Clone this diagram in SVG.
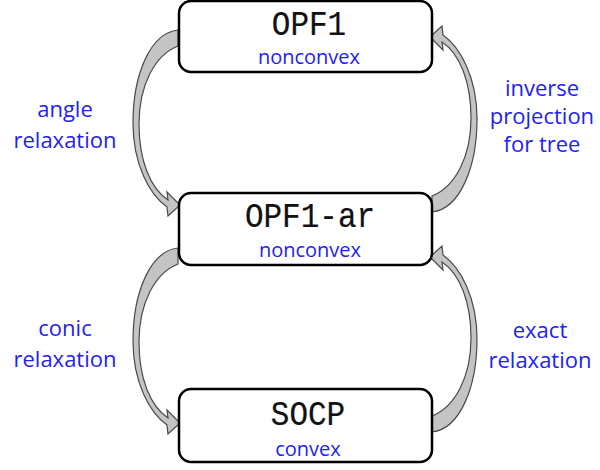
<svg xmlns="http://www.w3.org/2000/svg" width="600" height="470" viewBox="0 0 600 470">
  <style>
    .box { fill: #ffffff; stroke: #000000; stroke-width: 2.5; }
    .title { font-family: "Liberation Mono", "DejaVu Sans Mono", monospace; font-size: 31px; fill: #111111; stroke: #111111; stroke-width: 0.2; text-anchor: middle; }
    .sub { font-family: "Open Sans", "DejaVu Sans", sans-serif; font-size: 20px; fill: #2222f0; text-anchor: middle; }
    .lbl { font-family: "Open Sans", "DejaVu Sans", sans-serif; font-size: 22px; fill: #2222f0; text-anchor: middle; }
    .arrow { fill: #c4c4c4; stroke: #4a4a4a; stroke-width: 1.2; stroke-linejoin: miter; }
  </style>
  <defs>
    <!-- curved block arrow bulging to the left: tail at top-right, head at bottom-right -->
    <path id="curl" d="M178,30 C150,33 133,75 133,123 C133,165 150,195 167,207 L168,216 L180,205 L167,192 L168,200 C150,188 139,160 139,124 C139,85 155,55 178,46 Z"/>
  </defs>

  <g id="connectors">
    <use href="#curl" class="arrow"/>
    <use href="#curl" class="arrow" transform="rotate(180 305 121)"/>
    <use href="#curl" class="arrow" transform="translate(0 218)"/>
    <use href="#curl" class="arrow" transform="translate(0 220) rotate(180 305 121)"/>
  </g>

  <g id="opf1">
    <rect class="box" x="179" y="1" width="253" height="71" rx="12"/>
    <text class="title" transform="translate(309 35) scale(1 1.12)">OPF1</text>
    <text class="sub" x="309" y="64">nonconvex</text>
  </g>

  <g id="opf1-ar">
    <rect class="box" x="179" y="193" width="253" height="72" rx="12"/>
    <text class="title" transform="translate(310 227) scale(1 1.12)">OPF1-ar</text>
    <text class="sub" x="310" y="257">nonconvex</text>
  </g>

  <g id="socp">
    <rect class="box" x="179" y="389" width="253" height="73" rx="12"/>
    <text class="title" transform="translate(308 425) scale(1 1.12)">SOCP</text>
    <text class="sub" x="308" y="456">convex</text>
  </g>

  <g id="labels">
    <text class="lbl" x="65" y="117">angle</text>
    <text class="lbl" x="65" y="148">relaxation</text>
    <text class="lbl" x="542" y="96">inverse</text>
    <text class="lbl" x="542" y="124">projection</text>
    <text class="lbl" x="542" y="152">for tree</text>
    <text class="lbl" x="65" y="336">conic</text>
    <text class="lbl" x="65" y="367">relaxation</text>
    <text class="lbl" x="540" y="338">exact</text>
    <text class="lbl" x="540" y="368">relaxation</text>
  </g>
</svg>
